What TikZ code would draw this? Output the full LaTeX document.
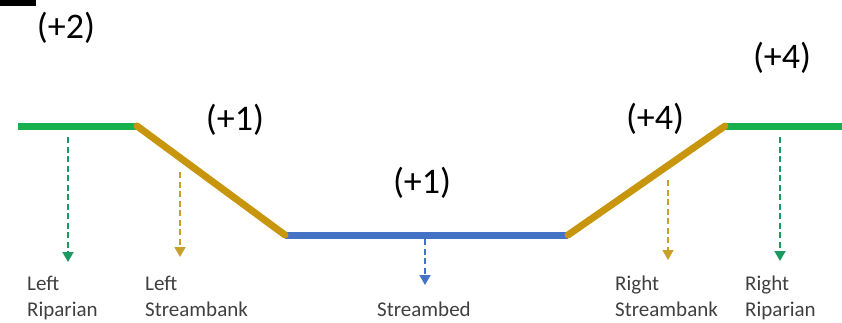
\documentclass[tikz,border=0pt]{standalone}
\usepackage{fontspec}
\setmainfont{Carlito}
\usetikzlibrary{arrows.meta}
\definecolor{rgreen}{HTML}{17B04D}
\definecolor{bbrown}{HTML}{C8960C}
\definecolor{sblue}{HTML}{4472C4}
\definecolor{dgreen}{HTML}{1A9A60}
\definecolor{dbrown}{HTML}{C8A02A}
\definecolor{lbl}{HTML}{404040}
\tikzset{
  seg/.style={line width=7pt},
  darrow/.style={line width=1.8pt, dash pattern=on 6pt off 3.5pt, -{Triangle[width=11pt,length=10pt]}},
  score/.style={font=\fontsize{36}{40}\selectfont, text=black, inner sep=0pt},
  zone/.style={font=\fontsize{21}{26}\selectfont, text=lbl, align=left, anchor=base west, inner sep=0pt},
}
\begin{document}
\begin{tikzpicture}[x=1pt,y=-1pt]
\useasboundingbox (0,0) rectangle (842,322);
\fill[white] (0,0) rectangle (842,322);
\fill[black] (0,0) rectangle (36,6);
% profile points
\coordinate (p1) at (18,126);
\coordinate (p2) at (137,126);
\coordinate (p3) at (285,235);
\coordinate (p4) at (568,235);
\coordinate (p5) at (725,126);
\coordinate (p6) at (842,126);
\draw[seg, rgreen] (p1) -- (p2);
\draw[seg, rgreen] (p5) -- (p6);
\draw[seg, sblue] (p3) -- (p4);
\draw[seg, bbrown, line cap=round] (p2) -- (p3);
\draw[seg, bbrown, line cap=round] (p4) -- (p5);
% scores
\node[score] (s1) at (66,28) {(+2)};
\node[score] (s2) at (235,120) {(+1)};
\node[score] (s3) at (422,183) {(+1)};
\node[score] (s4) at (655,119) {(+4)};
\node[score] (s5) at (782,58) {(+4)};
% labels (base anchor = last line baseline)
\node[zone] (l1) at (27,316) {Left\\Riparian};
\node[zone] (l2) at (145,316) {Left\\Streambank};
\node[zone] (l3) at (377,316) {Streambed};
\node[zone] (l4) at (615,316) {Right\\Streambank};
\node[zone] (l5) at (745,316) {Right\\Riparian};
% arrow ends
\coordinate (a1s) at (68,137);  \coordinate (a1e) at (68,262);
\coordinate (a2s) at (180,172); \coordinate (a2e) at (180,257);
\coordinate (a3s) at (425,239); \coordinate (a3e) at (425,285);
\coordinate (a4s) at (668,180); \coordinate (a4e) at (668,260);
\coordinate (a5s) at (780,137); \coordinate (a5e) at (780,261);
\draw[darrow, dgreen] (a1s) -- (a1e);
\draw[darrow, dbrown] (a2s) -- (a2e);
\draw[darrow, sblue] (a3s) -- (a3e);
\draw[darrow, dbrown] (a4s) -- (a4e);
\draw[darrow, dgreen] (a5s) -- (a5e);
\end{tikzpicture}
\end{document}
